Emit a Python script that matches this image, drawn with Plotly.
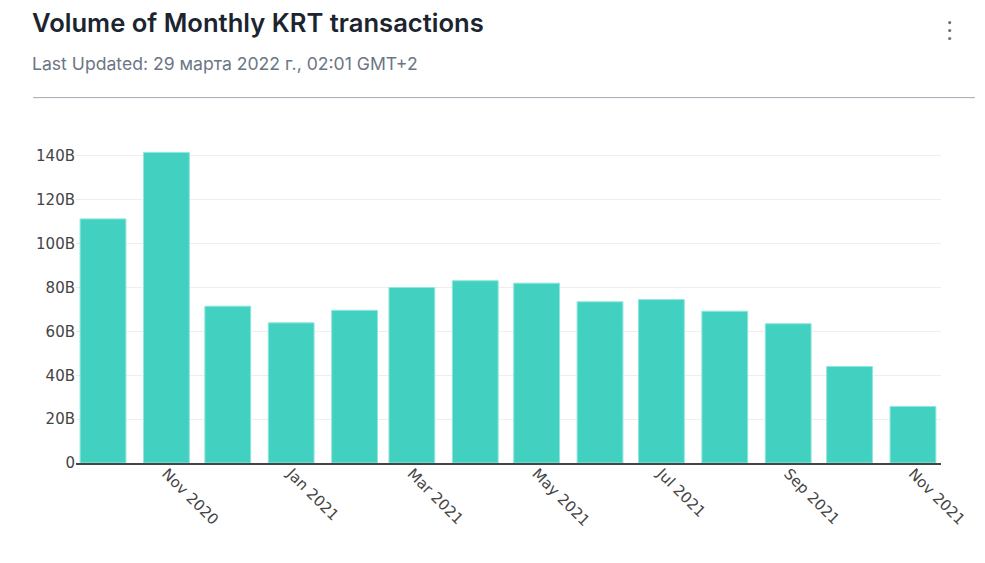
import plotly.graph_objects as go

# Data
months = ["2020-10-01", "2020-11-01", "2020-12-01", "2021-01-01", "2021-02-01",
          "2021-03-01", "2021-04-01", "2021-05-01", "2021-06-01", "2021-07-01",
          "2021-08-01", "2021-09-01", "2021-10-01", "2021-11-01"]
volume_billions = [111.3, 141.6, 71.5, 63.9, 69.6, 80.0, 83.1, 82.0, 73.5, 74.5,
                   69.2, 63.5, 44.0, 25.8]
y_tickvals = [0, 20, 40, 60, 80, 100, 120, 140]
y_ticktext = ["0", "20B", "40B", "60B", "80B", "100B", "120B", "140B"]

title_text = "Volume of Monthly KRT transactions"
subtitle_text = "Last Updated: 29 марта 2022 г., 02:01 GMT+2"

W, H = 985, 563
OFF = 8  # page body offset
L, R, T, B = 76 - OFF, 44 + OFF, 133.5 - OFF, 99.5 + OFF
PW, PH = W - L - R, H - T - B


def px_x(px):
    return (px - OFF - L) / PW


def px_y(py):
    return (H - B - (py - OFF)) / PH


fig = go.Figure()
fig.add_trace(go.Bar(
    x=months,
    y=volume_billions,
    marker=dict(color="#42d1c1", line=dict(color="#8fe6dc", width=1)),
    hoverinfo="x+y",
))

annotations = [
    dict(text=title_text, x=px_x(30), y=px_y(22), xref="paper", yref="paper",
         xanchor="left", yanchor="middle", showarrow=False,
         font=dict(family="Inter", size=25.6, weight=600, color="#1c2430")),
    dict(text=subtitle_text, x=px_x(30), y=px_y(63), xref="paper", yref="paper",
         xanchor="left", yanchor="middle", showarrow=False,
         font=dict(family="Inter", size=17.6, color="#6b7685")),
]

shapes = [
    dict(type="line", xref="paper", yref="paper", x0=px_x(33), x1=px_x(975),
         y0=px_y(97), y1=px_y(97), line=dict(color="#a3a9b2", width=1)),
]
for cy in (21.7, 29.7, 37.7):
    r = 1.6
    shapes.append(dict(type="circle", xref="paper", yref="paper",
                       x0=px_x(949.7 - r), x1=px_x(949.7 + r),
                       y0=px_y(cy + r), y1=px_y(cy - r),
                       fillcolor="#6b7280", line=dict(width=0)))

fig.update_layout(
    width=W, height=H,
    margin=dict(l=L, r=R, t=T, b=B, pad=0),
    paper_bgcolor="white", plot_bgcolor="white",
    showlegend=False,
    bargap=0.2,
    font=dict(family="DejaVu Sans", size=15, color="#444"),
    annotations=annotations,
    shapes=shapes,
    xaxis=dict(
        type="date",
        range=["2020-09-17 19:00", "2021-11-14 17:00"],
        tick0="2020-11-01", dtick="M2", tickformat="%b %Y",
        tickangle=45, ticks="", showgrid=False,
        showline=True, linecolor="#444", linewidth=2,
        ticklabelstandoff=-6,
        tickfont=dict(family="DejaVu Sans", size=15, color="#444"),
    ),
    yaxis=dict(
        range=[0, 150],
        tickvals=y_tickvals, ticktext=y_ticktext,
        showgrid=True, gridcolor="#eeeeee", gridwidth=1,
        zeroline=False, showline=False, ticks="",
        tickfont=dict(family="DejaVu Sans", size=15, color="#444"),
    ),
)

fig.write_html("out.html")
